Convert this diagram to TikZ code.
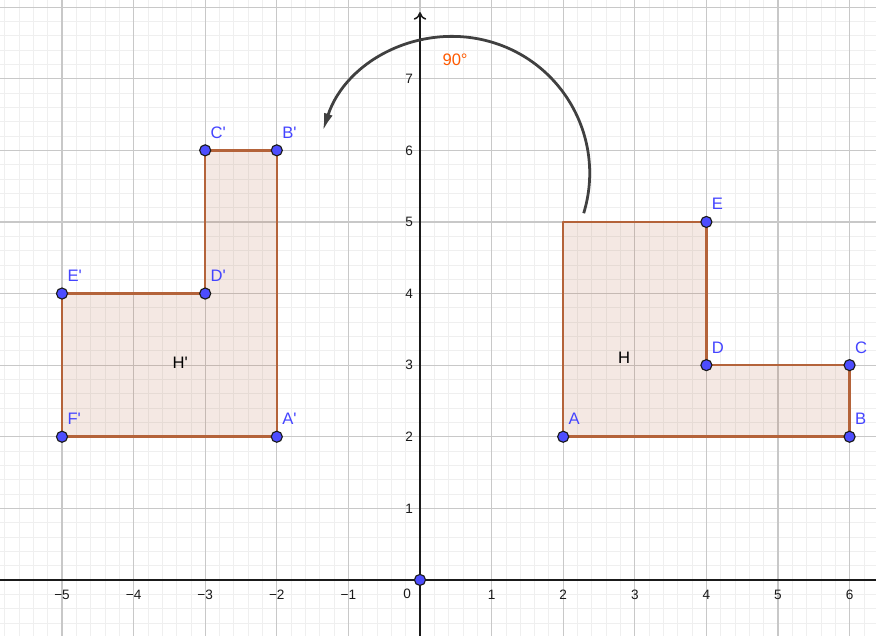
\documentclass[tikz,border=0pt]{standalone}
\usepackage{fontspec}
\setmainfont{Liberation Sans}
\usepackage{tikz}
\usetikzlibrary{positioning,calc,arrows.meta,backgrounds}
\definecolor{cGridMaj}{HTML}{C8C8C8}
\definecolor{cGridMin}{HTML}{EFEFEF}
\definecolor{cPoly}{HTML}{B4633A}
\definecolor{cPt}{HTML}{4D4DFF}
\definecolor{cPtLbl}{HTML}{4444FF}
\definecolor{cArc}{HTML}{404040}
\definecolor{cOrange}{HTML}{FF5A00}
\definecolor{cInk}{HTML}{1A1A1A}
\newcommand{\gfont}{\fontsize{5.4}{6.5}\selectfont}
\newcommand{\lfont}{\fontsize{6.6}{7.8}\selectfont}
\tikzset{
  pt/.style={circle,draw=cInk,fill=cPt,line width=0.45pt,minimum size=4.4pt,inner sep=0pt},
  ptlbl/.style={font=\lfont,text=cPtLbl,inner sep=0pt,anchor=south west},
  poly/.style={draw=cPoly,line width=1pt,fill=cPoly,fill opacity=0.14,line join=round},
  ticklbl/.style={font=\gfont,text=cInk,inner sep=0pt},
  rotarc/.style={draw=cArc,line width=1.1pt,-{Latex[length=7pt,width=3.6pt]}},
}

\begin{document}
\begin{tikzpicture}
  \useasboundingbox (-5.866,-0.782) rectangle (6.369,8.10);
  \fill[white] (-5.866,-0.782) rectangle (6.369,8.10);
  % grid
  \draw[cGridMin,line width=0.3pt,step=0.2] (-5.866,-0.782) grid (6.369,8.10);
  \draw[cGridMaj,line width=0.45pt,step=1] (-5.866,-0.782) grid (6.369,8.10);
  % axes
  \coordinate (xl) at (-5.866,0);
  \coordinate (xr) at (6.369,0);
  \coordinate (yb) at (0,-0.782);
  \coordinate (yt) at (0,7.93);
  \draw[cInk,line width=0.6pt] (xl) -- (xr);
  \draw[cInk,line width=0.6pt,-{To[length=3pt,width=5pt]}] (yb) -- (yt);
  \foreach \x in {1,...,6}
    \node[ticklbl] (xp\x) at (\x,-0.21) {\x};
  \foreach \x in {1,...,5}
    \node[ticklbl] (xm\x) at (-\x,-0.21) {−\x};
  \foreach \y in {1,...,7}
    \node[ticklbl] (yl\y) at (-0.15,\y) {\y};
  \node[ticklbl] (yl0) at (-0.18,-0.19) {0};
  % vertices
  \coordinate (A) at (2,2);
  \coordinate (B) at (6,2);
  \coordinate (C) at (6,3);
  \coordinate (D) at (4,3);
  \coordinate (E) at (4,5);
  \coordinate (G) at (2,5);
  \coordinate (Ap) at (-2,2);
  \coordinate (Bp) at (-2,6);
  \coordinate (Cp) at (-3,6);
  \coordinate (Dp) at (-3,4);
  \coordinate (Ep) at (-5,4);
  \coordinate (Fp) at (-5,2);
  \coordinate (O) at (0,0);
  \draw[poly] (A) -- (B) -- (C) -- (D) -- (E) -- (G) -- cycle;
  \draw[poly] (Ap) -- (Bp) -- (Cp) -- (Dp) -- (Ep) -- (Fp) -- cycle;
  \node[font=\lfont,inner sep=0pt] (lH) at (2.85,3.10) {H};
  \node[font=\lfont,inner sep=0pt] (lHp) at (-3.35,3.03) {H\textquotesingle};
  % rotation arrow
  \coordinate (rotc) at (0.46,5.68);
  \coordinate (arcS) at ($(rotc)+(-17:1.91)$);
  \draw[rotarc] (arcS) arc[start angle=-17,end angle=162,radius=1.91];
  \node[font=\lfont,text=cOrange,inner sep=0pt] (ang) at (0.49,7.27) {90°};
  % points
  \foreach \p in {A,B,C,D,E,Ap,Bp,Cp,Dp,Ep,Fp,O}
    \node[pt] (\p-pt) at (\p) {};
  \foreach \p/\t in {A/A,B/B,C/C,D/D,E/E,Ap/A\textquotesingle,Bp/B\textquotesingle,Cp/C\textquotesingle,Dp/D\textquotesingle,Ep/E\textquotesingle,Fp/F\textquotesingle}
    \node[ptlbl] (\p-lbl) at ($(\p)+(0.07,0.16)$) {\t};
\end{tikzpicture}
\end{document}
